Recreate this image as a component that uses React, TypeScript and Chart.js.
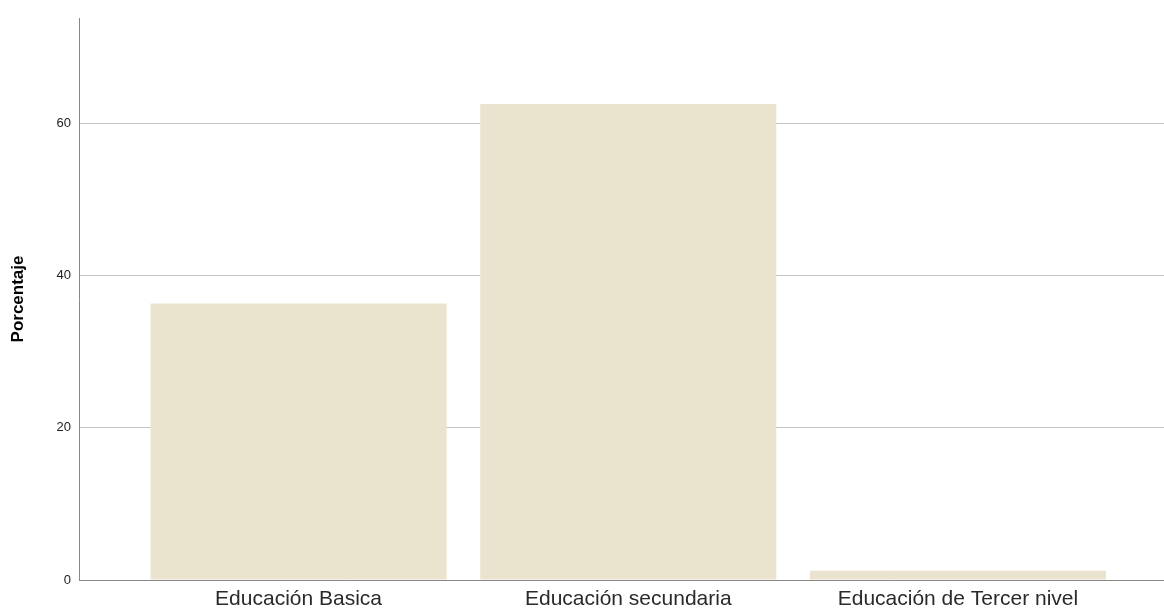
import React, { useEffect, useRef } from "react";
import { Chart, registerables } from "chart.js";

Chart.register(...registerables);

const categories: string[] = ["Educación Basica", "Educación secundaria", "Educación de Tercer nivel"];
const porcentaje: number[] = [36.3, 62.5, 1.2];
const yTicks: number[] = [0, 20, 40, 60];
const yTitle = "Porcentaje";

export default function App() {
  const ref = useRef<HTMLCanvasElement | null>(null);

  useEffect(() => {
    if (!ref.current) return;
    const chart = new Chart(ref.current, {
      type: "bar",
      data: {
        datasets: [
          {
            data: categories.map((c, i) => ({ x: i + 1, y: porcentaje[i] })),
            backgroundColor: "rgb(234,227,206)",
            borderWidth: 0,
            categoryPercentage: 1,
            barPercentage: 0.898,
          },
        ],
      },
      options: {
        animation: false,
        responsive: false,
        maintainAspectRatio: false,
        layout: { padding: { top: 18, right: 0, left: 0, bottom: 0 } },
        plugins: { legend: { display: false }, tooltip: { enabled: false }, title: { display: false } },
        scales: {
          x: {
            type: "linear",
            offset: false,
            min: 0.334,
            max: 3.625,
            grid: { display: false, drawTicks: false },
            border: { display: true, color: "#888888", width: 1 },
            afterBuildTicks: (s: any) => {
              s.ticks = categories.map((_, i) => ({ value: i + 1 }));
            },
            afterFit: (s: any) => {
              s.height = 32;
            },
            ticks: {
              autoSkip: false,
              maxRotation: 0,
              padding: 7,
              color: "#2a2a2a",
              font: { family: "Arial, 'Liberation Sans', sans-serif", size: 21 },
              callback: (v: any) => categories[Math.round(Number(v)) - 1] ?? "",
            },
          },
          y: {
            type: "linear",
            min: 0,
            max: 73.8,
            afterBuildTicks: (s: any) => {
              s.ticks = yTicks.map((v) => ({ value: v }));
            },
            afterFit: (s: any) => {
              s.width = 79;
            },
            grid: { color: "#c4c4c4", drawTicks: false, lineWidth: 1 },
            border: { display: true, color: "#888888", width: 1 },
            ticks: {
              padding: 8,
              color: "#222222",
              font: { family: "Arial, 'Liberation Sans', sans-serif", size: 13 },
            },
            title: {
              display: true,
              text: yTitle,
              color: "#000000",
              padding: { top: 8, bottom: 0 },
              font: { family: "Arial, 'Liberation Sans', sans-serif", size: 17, weight: "bold" },
            },
          },
        },
      },
    } as any);
    return () => chart.destroy();
  }, []);

  return (
    <div style={{ position: "fixed", left: 0, top: 0, width: 1164, height: 612, background: "#ffffff" }}>
      <canvas ref={ref} width={1164} height={612} style={{ width: 1164, height: 612, display: "block" }} />
    </div>
  );
}
